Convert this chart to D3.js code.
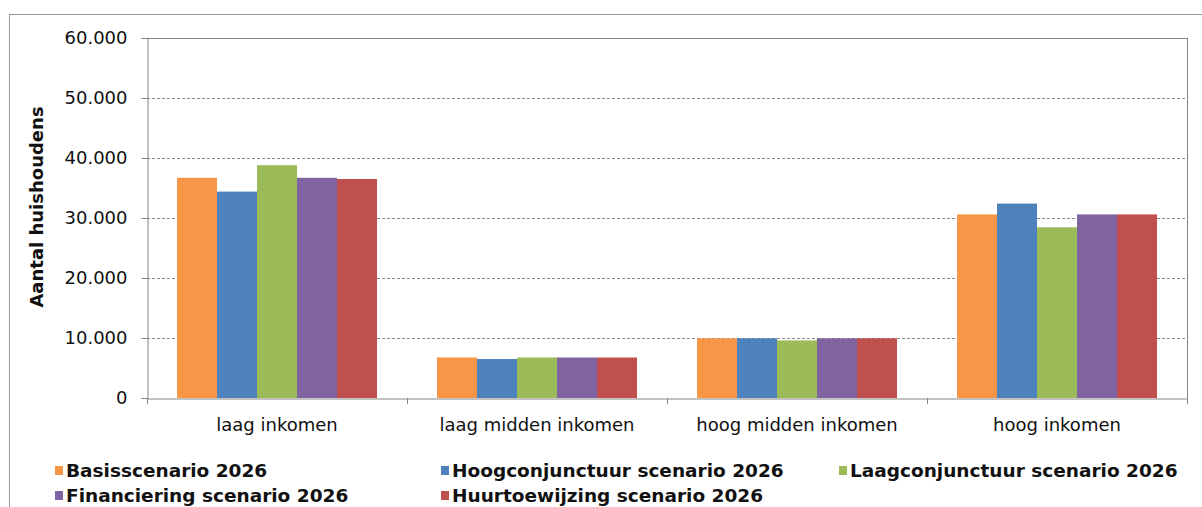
<!DOCTYPE html>
<html>
<head>
<meta charset="utf-8">
<script src="https://cdn.jsdelivr.net/npm/d3@7"></script>
<style>
  html, body { margin: 0; padding: 0; background: #fff; }
  svg { display: block; }
</style>
</head>
<body>
<svg id="chart" width="1202" height="507"></svg>
<script>
// Income groups on the x axis
const categories = ["laag inkomen", "laag midden inkomen", "hoog midden inkomen", "hoog inkomen"];

// Scenario series (number of households per income group)
const seriesNames = [
  "Basisscenario 2026",
  "Hoogconjunctuur scenario 2026",
  "Laagconjunctuur scenario 2026",
  "Financiering scenario 2026",
  "Huurtoewijzing scenario 2026"
];
const basis        = [36700, 6750, 9950, 30600];
const hoogconj     = [34400, 6500, 9950, 32400];
const laagconj     = [38800, 6750, 9600, 28450];
const financiering = [36700, 6750, 9950, 30600];
const huurtoew     = [36500, 6750, 9950, 30600];
const seriesValues = [basis, hoogconj, laagconj, financiering, huurtoew];
const seriesColors = ["#F79646", "#4F81BD", "#9BBB59", "#8064A2", "#C0504D"];

// Y axis ticks
const yTicks = [0, 10000, 20000, 30000, 40000, 50000, 60000];
const yTickLabels = ["0", "10.000", "20.000", "30.000", "40.000", "50.000", "60.000"];
const yTitle = "Aantal huishoudens";

const svg = d3.select("#chart");
const font = "'DejaVu Sans', Verdana, sans-serif";
const axisColor = "#868686";

// Outer chart frame
svg.append("rect")
  .attr("x", 9.5).attr("y", 14.5)
  .attr("width", 1210).attr("height", 520)
  .attr("fill", "none").attr("stroke", "#9a9a9a").attr("stroke-width", 1);

const plot = { left: 147, right: 1187, top: 38, bottom: 398 };

const x0 = d3.scaleBand().domain(categories).range([plot.left, plot.right]).paddingInner(0).paddingOuter(0);
const x1 = d3.scaleBand().domain(d3.range(seriesNames.length))
  .range([30, x0.bandwidth() - 30]).padding(0);
const y = d3.scaleLinear().domain([0, 60000]).range([plot.bottom, plot.top]);

// Dashed gridlines; the top one is the plot border
svg.append("g").selectAll("line")
  .data(yTicks.filter(t => t > 0 && t < 60000))
  .join("line")
  .attr("x1", plot.left).attr("x2", plot.right)
  .attr("y1", d => Math.round(y(d)) + 0.5).attr("y2", d => Math.round(y(d)) + 0.5)
  .attr("stroke", "#8a8a8a").attr("stroke-width", 1)
  .attr("stroke-dasharray", "3,2");

// Plot border top and right
svg.append("line")
  .attr("x1", plot.left).attr("x2", plot.right)
  .attr("y1", plot.top + 0.5).attr("y2", plot.top + 0.5)
  .attr("stroke", axisColor);
svg.append("line")
  .attr("x1", plot.right + 0.5).attr("x2", plot.right + 0.5)
  .attr("y1", plot.top).attr("y2", plot.bottom + 6)
  .attr("stroke", axisColor);

// Bars
const groups = svg.append("g").selectAll("g")
  .data(categories)
  .join("g")
  .attr("transform", d => `translate(${x0(d)},0)`);

groups.selectAll("rect")
  .data((c, ci) => seriesValues.map((vals, si) => ({ si, v: vals[ci] })))
  .join("rect")
  .attr("x", d => x1(d.si))
  .attr("width", x1.bandwidth())
  .attr("y", d => y(d.v))
  .attr("height", d => y(0) - y(d.v))
  .attr("fill", d => seriesColors[d.si]);

// Y axis
const yAxis = d3.axisLeft(y)
  .tickValues(yTicks)
  .tickSize(6)
  .tickPadding(14)
  .tickFormat((d, i) => yTickLabels[i]);
const gy = svg.append("g")
  .attr("transform", `translate(${plot.left + 0.5},0)`)
  .call(yAxis);
gy.select(".domain").attr("stroke", axisColor);
gy.selectAll(".tick line").attr("stroke", axisColor);
gy.selectAll(".tick text")
  .attr("font-family", font).attr("font-size", 18).attr("fill", "#111");

// X axis
const xAxis = d3.axisBottom(x0).tickSize(0).tickPadding(20);
const gx = svg.append("g")
  .attr("transform", `translate(0,${plot.bottom + 0.5})`)
  .call(xAxis);
gx.select(".domain").attr("stroke", axisColor);
gx.selectAll(".tick text")
  .attr("font-family", font).attr("font-size", 18).attr("fill", "#111");

// Category separator ticks
svg.append("g").selectAll("line")
  .data(d3.range(categories.length + 1))
  .join("line")
  .attr("x1", i => Math.round(plot.left + i * x0.bandwidth()) + 0.5)
  .attr("x2", i => Math.round(plot.left + i * x0.bandwidth()) + 0.5)
  .attr("y1", plot.bottom).attr("y2", plot.bottom + 6)
  .attr("stroke", axisColor);

// Y axis title
svg.append("text")
  .attr("transform", `translate(43,${(plot.top + plot.bottom) / 2 - 11}) rotate(-90)`)
  .attr("text-anchor", "middle")
  .attr("font-family", font).attr("font-size", 18).attr("font-weight", "bold")
  .attr("fill", "#111")
  .text(yTitle);

// Legend, two rows
const legendPos = [
  { x: 55, y: 477 }, { x: 441, y: 477 }, { x: 839, y: 477 },
  { x: 55, y: 502 }, { x: 441, y: 502 }
];
const legend = svg.append("g").selectAll("g")
  .data(seriesNames)
  .join("g")
  .attr("transform", (d, i) => `translate(${legendPos[i].x},${legendPos[i].y})`);
legend.append("rect")
  .attr("x", 0).attr("y", -11).attr("width", 8).attr("height", 9)
  .attr("fill", (d, i) => seriesColors[i]);
legend.append("text")
  .attr("x", 11).attr("y", 0)
  .attr("font-family", font).attr("font-size", 18.5).attr("font-weight", "bold")
  .attr("fill", "#111")
  .text(d => d);
</script>
</body>
</html>
